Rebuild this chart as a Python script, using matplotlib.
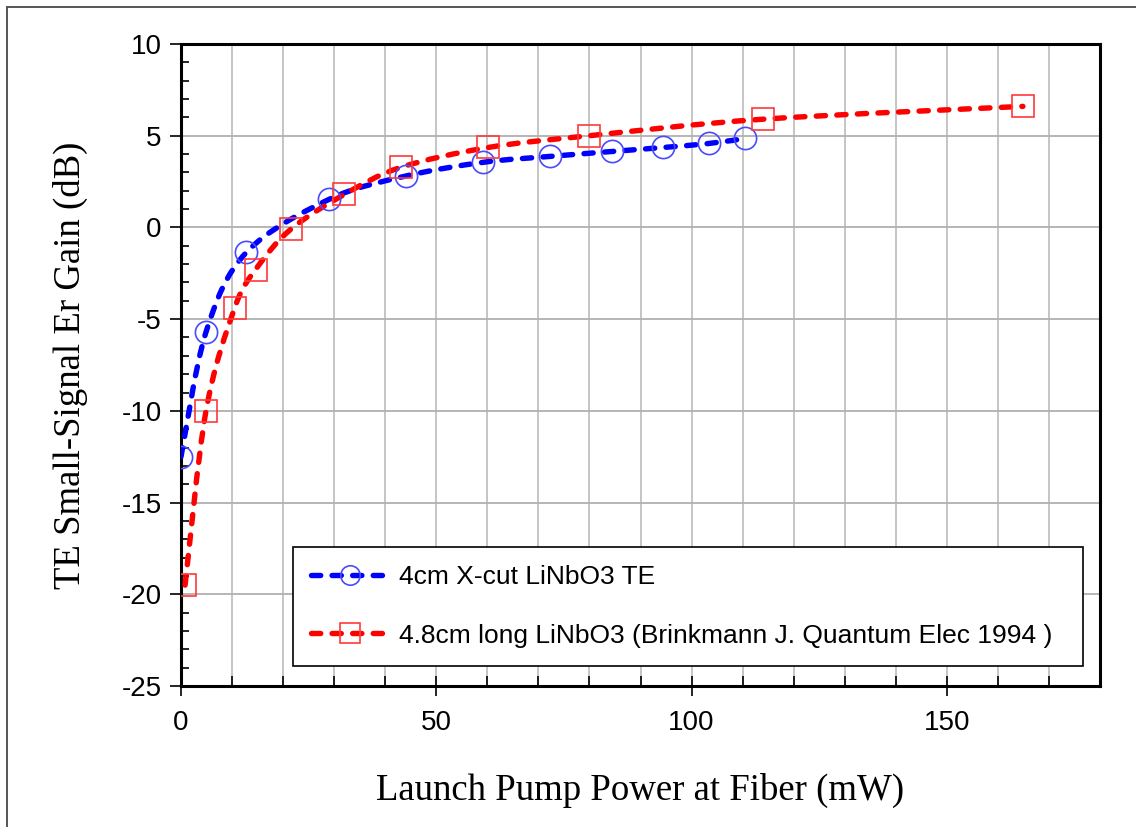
import matplotlib
matplotlib.use("Agg")
import matplotlib.pyplot as plt
from matplotlib.path import Path
from matplotlib.patches import PathPatch
from matplotlib.lines import Line2D
from matplotlib.ticker import MultipleLocator
import numpy as np

plt.rcParams["axes.unicode_minus"] = False

# Measured gain vs. launched pump power
xcut_power = [0.0, 4.9, 12.8, 29.0, 44.0, 59.2, 72.2, 84.4, 94.5, 103.5, 110.5]
xcut_gain = [-12.5, -5.7, -1.36, 1.53, 2.8, 3.55, 3.87, 4.14, 4.36, 4.58, 4.85]

brink_power = [0.8, 4.9, 10.5, 14.6, 21.5, 32.0, 43.0, 60.2, 80.0, 114.0, 164.9]
brink_gain = [-19.5, -10.0, -4.4, -2.3, -0.1, 1.8, 3.27, 4.36, 5.0, 5.9, 6.6]

labels = ["4cm X-cut LiNbO3 TE",
          "4.8cm long LiNbO3 (Brinkmann J. Quantum Elec 1994 )"]

SANS = "Liberation Sans"
SERIF = "Liberation Serif"


def smooth_path(xs, ys):
    """Cubic Bezier path through the points (Catmull-Rom style smoothing)."""
    pts = np.column_stack([xs, ys]).astype(float)
    n = len(pts)
    verts = [pts[0]]
    codes = [Path.MOVETO]
    for i in range(n - 1):
        p0 = pts[i - 1] if i > 0 else pts[i]
        p1 = pts[i]
        p2 = pts[i + 1]
        p3 = pts[i + 2] if i + 2 < n else pts[i + 1]
        c1 = p1 + (p2 - p0) / 6.0
        c2 = p2 - (p3 - p1) / 6.0
        verts += [c1, c2, p2]
        codes += [Path.CURVE4] * 3
    return Path(np.array(verts), codes)


fig = plt.figure(figsize=(11.36, 8.27), dpi=100)
fig.patch.set_facecolor("white")

# frame lines along the left and top of the chart area
fx = 6.5 / 1136
fy = 1 - 7 / 827
fig.add_artist(Line2D([fx, fx], [0, fy], transform=fig.transFigure,
                      color="#555555", linewidth=1.4))
fig.add_artist(Line2D([fx, 1], [fy, fy], transform=fig.transFigure,
                      color="#555555", linewidth=1.4))

ax = fig.add_axes([181 / 1136, 1 - 686 / 827, (1100 - 181) / 1136, (686 - 44) / 827])

lw = 3.9
dash = (0, (1.7, 2.1))
series = [
    (xcut_power, xcut_gain, "#0000ff", "#4a4aff", "o", 16),
    (brink_power, brink_gain, "#ff0000", "#ff3a3a", "s", 16),
]
handles = []
for xs, ys, lc, mc, mk, ms in series:
    patch = PathPatch(smooth_path(xs, ys), fill=False, edgecolor=lc,
                      linewidth=lw, linestyle=dash, capstyle="round", zorder=3)
    ax.add_patch(patch)
    ax.plot(xs, ys, linestyle="none", marker=mk, markersize=ms,
            markerfacecolor="none", markeredgecolor=mc, markeredgewidth=1.2,
            zorder=4)
    handles.append(Line2D([], [], color=lc, linewidth=lw, linestyle=dash,
                          dash_capstyle="round", marker=mk, markersize=ms - 2,
                          markerfacecolor="none", markeredgecolor=mc,
                          markeredgewidth=1.2))

ax.set_xlim(0, 180)
ax.set_ylim(-25, 10)
ax.xaxis.set_major_locator(MultipleLocator(50))
ax.xaxis.set_minor_locator(MultipleLocator(10))
ax.yaxis.set_major_locator(MultipleLocator(5))
ax.yaxis.set_minor_locator(MultipleLocator(1))

ax.grid(False)
for v in range(10, 180, 10):
    ax.axvline(v, color="#c0c0c0", linewidth=1.3, zorder=1)
for v in range(-20, 10, 5):
    ax.axhline(v, color="#b0b0b0", linewidth=1.3, zorder=1)

for s in ax.spines.values():
    s.set_linewidth(2.2)
    s.set_color("black")

ax.tick_params(axis="x", which="major", direction="inout", length=14, width=1.2,
               labelsize=20, pad=10)
ax.tick_params(axis="x", which="minor", direction="in", length=7, width=1.2)
ax.tick_params(axis="y", which="major", direction="out", length=8, width=1.2,
               labelsize=20, pad=6)
ax.tick_params(axis="y", which="minor", direction="in", length=6, width=1.2)
for t in ax.get_xticklabels() + ax.get_yticklabels():
    t.set_fontfamily(SANS)

ax.set_xlabel("Launch Pump Power at Fiber (mW)", fontfamily=SERIF, fontsize=26.5,
              labelpad=27)
ax.set_ylabel("TE Small-Signal Er Gain (dB)", fontfamily=SERIF, fontsize=26.5,
              labelpad=24)

leg = ax.legend(handles, labels, loc="lower left",
                bbox_to_anchor=((293 - 181) / 919, (686 - 666) / 642,
                                (1083 - 293) / 919, (666 - 549) / 642),
                mode="expand", borderaxespad=0, numpoints=1, handlelength=2.9,
                handletextpad=0.4, borderpad=0.7, labelspacing=1.3,
                fancybox=False, framealpha=1, edgecolor="black",
                prop={"family": SANS, "size": 19})
leg.get_frame().set_linewidth(1.2)

fig.savefig("out.png", dpi=100, facecolor="white")
